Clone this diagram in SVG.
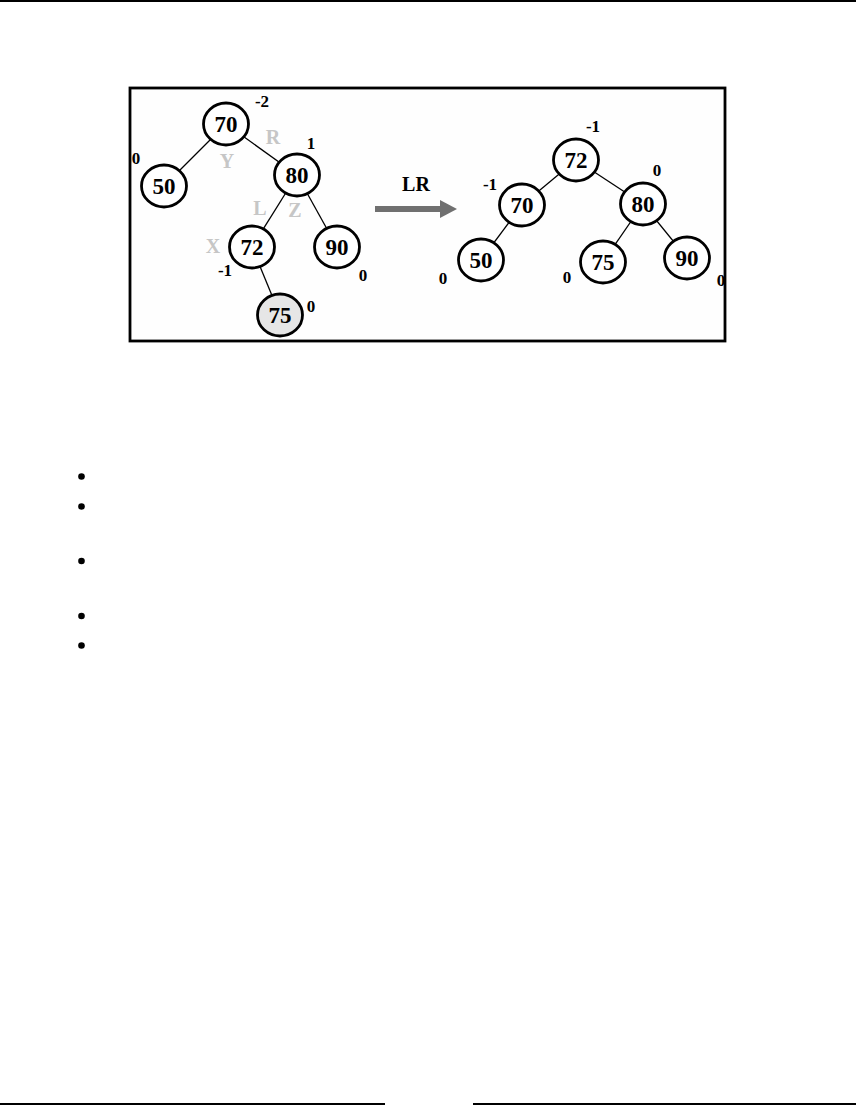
<svg xmlns="http://www.w3.org/2000/svg" width="856" height="1105" viewBox="0 0 856 1105">
<style>
.node ellipse{fill:#fff;stroke:#000;stroke-width:2.8}
.node text{font-family:"Liberation Serif",serif;font-weight:bold;font-size:23px;text-anchor:middle;fill:#000}
.bf{font-family:"Liberation Serif",serif;font-weight:bold;font-size:17px;text-anchor:middle;fill:#000}
.gl{font-family:"Liberation Serif",serif;font-weight:bold;font-size:20px;text-anchor:middle;fill:#c6c6c6}
.edge{stroke:#000;stroke-width:1.3}
</style>
<rect x="0" y="0" width="856" height="2" fill="#000"/>
<rect x="130" y="88" width="595" height="253" fill="#fefefe" stroke="#000" stroke-width="2.8"/>
<g id="connectors">
<line class="edge" x1="226" y1="124" x2="164" y2="186"/>
<line class="edge" x1="226" y1="124" x2="297" y2="175"/>
<line class="edge" x1="297" y1="175" x2="252" y2="247"/>
<line class="edge" x1="297" y1="175" x2="337" y2="247"/>
<line class="edge" x1="252" y1="247" x2="280" y2="315"/>
<line class="edge" x1="576" y1="160" x2="522" y2="205"/>
<line class="edge" x1="576" y1="160" x2="643" y2="204"/>
<line class="edge" x1="522" y1="205" x2="481" y2="260"/>
<line class="edge" x1="643" y1="204" x2="603" y2="262"/>
<line class="edge" x1="643" y1="204" x2="687" y2="258"/>
</g>
<g id="arrow">
<rect x="375" y="206" width="66" height="6" fill="#707070"/>
<polygon points="440,200 457,209 440,218" fill="#707070"/>
<text x="416" y="191" class="bf" style="font-size:20px">LR</text>
</g>
<g id="n70a" class="node"><ellipse cx="226" cy="124" rx="22.5" ry="21"/><text x="226" y="132">70</text></g>
<g id="n50a" class="node"><ellipse cx="164" cy="186" rx="22.5" ry="21"/><text x="164" y="194">50</text></g>
<g id="n80a" class="node"><ellipse cx="297" cy="175" rx="22.5" ry="21"/><text x="297" y="183">80</text></g>
<g id="n72a" class="node"><ellipse cx="252" cy="247" rx="22.5" ry="21"/><text x="252" y="255">72</text></g>
<g id="n90a" class="node"><ellipse cx="337" cy="247" rx="22.5" ry="21"/><text x="337" y="255">90</text></g>
<g id="n75a" class="node"><ellipse cx="280" cy="315" rx="22.5" ry="21" style="fill:#e6e6e6"/><text x="280" y="323">75</text></g>
<g id="n72b" class="node"><ellipse cx="576" cy="160" rx="22.5" ry="21"/><text x="576" y="168">72</text></g>
<g id="n70b" class="node"><ellipse cx="522" cy="205" rx="22.5" ry="21"/><text x="522" y="213">70</text></g>
<g id="n80b" class="node"><ellipse cx="643" cy="204" rx="22.5" ry="21"/><text x="643" y="212">80</text></g>
<g id="n50b" class="node"><ellipse cx="481" cy="260" rx="22.5" ry="21"/><text x="481" y="268">50</text></g>
<g id="n75b" class="node"><ellipse cx="603" cy="262" rx="22.5" ry="21"/><text x="603" y="270">75</text></g>
<g id="n90b" class="node"><ellipse cx="687" cy="258" rx="22.5" ry="21"/><text x="687" y="266">90</text></g>
<g id="labels">
<text class="bf" x="262" y="107">-2</text>
<text class="bf" x="311" y="149">1</text>
<text class="bf" x="136" y="164">0</text>
<text class="bf" x="225" y="276">-1</text>
<text class="bf" x="363" y="281">0</text>
<text class="bf" x="311" y="312">0</text>
<text class="gl" x="273" y="144">R</text>
<text class="gl" x="227" y="168">Y</text>
<text class="gl" x="260" y="215">L</text>
<text class="gl" x="295" y="217">Z</text>
<text class="gl" x="213" y="253">X</text>
<text class="bf" x="593" y="132">-1</text>
<text class="bf" x="657" y="176">0</text>
<text class="bf" x="490" y="190">-1</text>
<text class="bf" x="443" y="284">0</text>
<text class="bf" x="567" y="283">0</text>
<text class="bf" x="721" y="286">0</text>
</g>
<g id="bullets" fill="#000">
<circle cx="81.5" cy="476.5" r="3.3"/>
<circle cx="81.5" cy="506.5" r="3.3"/>
<circle cx="81.5" cy="561" r="3.3"/>
<circle cx="81.5" cy="616" r="3.3"/>
<circle cx="81.5" cy="645.5" r="3.3"/>
</g>
<rect x="0" y="1103" width="385" height="2" fill="#000"/>
<rect x="473" y="1103" width="383" height="2" fill="#000"/>
</svg>
